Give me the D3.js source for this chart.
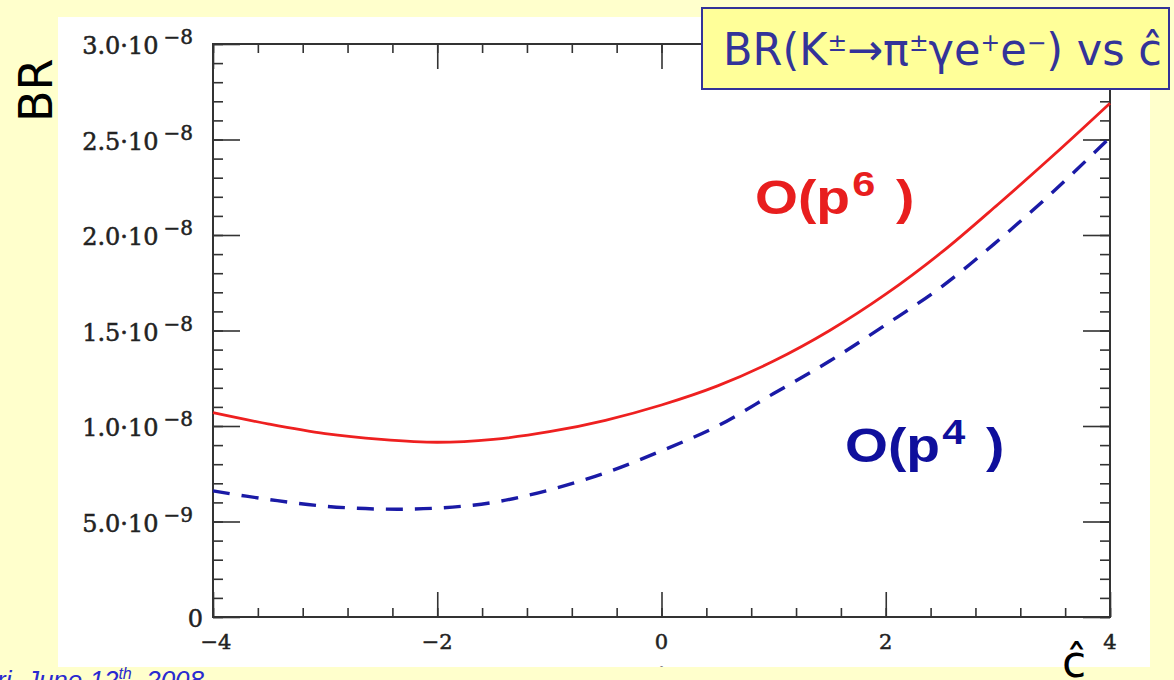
<!DOCTYPE html>
<html>
<head>
<meta charset="utf-8">
<script src="https://cdn.jsdelivr.net/npm/d3@7"></script>
<style>
  body { margin: 0; background: #ffffcc; }
  svg { display: block; }
</style>
</head>
<body>
<svg id="chart"></svg>
<script>
// values, BR as function of c-hat
var cHat = [-4, -3.5, -3, -2.5, -2, -1.5, -1, -0.5, 0, 0.5, 1, 1.5, 2, 2.5, 3, 3.5, 4];
var brP6 = [1.07e-8, 1.01e-8, 0.96e-8, 0.93e-8, 0.915e-8, 0.93e-8, 0.97e-8, 1.03e-8, 1.11e-8,
            1.21e-8, 1.34e-8, 1.50e-8, 1.69e-8, 1.91e-8, 2.16e-8, 2.42e-8, 2.69e-8];
var brP4 = [0.66e-8, 0.615e-8, 0.58e-8, 0.565e-8, 0.57e-8, 0.60e-8, 0.665e-8, 0.755e-8, 0.87e-8,
            1.00e-8, 1.17e-8, 1.34e-8, 1.53e-8, 1.73e-8, 1.97e-8, 2.23e-8, 2.51e-8];

var yTicks = [0, 5e-9, 1e-8, 1.5e-8, 2e-8, 2.5e-8, 3e-8];
var yTickText = ["0", "5.0·10", "1.0·10", "1.5·10", "2.0·10", "2.5·10", "3.0·10"];
var yTickExp = ["", "−9", "−8", "−8", "−8", "−8", "−8"];
var xTicks = [-4, -2, 0, 2, 4];
var xTickText = ["−4", "−2", "0", "2", "4"];

var width = 1174,
    height = 680,
    panel = {x: 58, y: 17, w: 1092, h: 650},
    plot = {left: 213, right: 1110, top: 44, bottom: 617},
    majorLen = 27,
    minorLen = 9;

var svg = d3.select("#chart")
    .attr("width", width)
    .attr("height", height);

svg.append("rect")
    .attr("width", width)
    .attr("height", height)
    .attr("fill", "#ffffcc");

svg.append("clipPath")
    .attr("id", "panelclip")
    .append("rect")
    .attr("x", panel.x).attr("y", panel.y)
    .attr("width", panel.w).attr("height", panel.h);

svg.append("rect")
    .attr("x", panel.x).attr("y", panel.y)
    .attr("width", panel.w).attr("height", panel.h)
    .attr("fill", "#ffffff");

var xScale = d3.scaleLinear().domain([-4, 4]).range([plot.left, plot.right]),
    yScale = d3.scaleLinear().domain([0, 3e-8]).range([plot.bottom, plot.top]);

var xMinor = d3.range(-4, 4.001, 0.4),
    yMinor = d3.range(0, 3.0001e-8, 1e-9);

var axes = svg.append("g").attr("class", "axes");

function tickAxis(axisFn, scale, values, size, transform) {
    var g = axes.append("g")
        .attr("transform", transform)
        .call(axisFn(scale).tickValues(values).tickSize(size).tickSizeOuter(0).tickFormat(""));
    g.select(".domain").remove();
    g.selectAll("line").attr("stroke", "#333").attr("stroke-width", 1.6);
    return g;
}

// ticks point inward on all four sides
tickAxis(d3.axisBottom, xScale, xMinor, -minorLen, "translate(0," + plot.bottom + ")");
tickAxis(d3.axisBottom, xScale, xTicks, -majorLen + 2, "translate(0," + plot.bottom + ")");
tickAxis(d3.axisTop, xScale, xMinor, -minorLen, "translate(0," + plot.top + ")");
tickAxis(d3.axisTop, xScale, xTicks, -majorLen + 2, "translate(0," + plot.top + ")");
tickAxis(d3.axisLeft, yScale, yMinor, -minorLen - 1, "translate(" + plot.left + ",0)");
tickAxis(d3.axisLeft, yScale, yTicks, -majorLen, "translate(" + plot.left + ",0)");
tickAxis(d3.axisRight, yScale, yMinor, -minorLen - 1, "translate(" + plot.right + ",0)");
tickAxis(d3.axisRight, yScale, yTicks, -majorLen, "translate(" + plot.right + ",0)");

axes.append("rect")
    .attr("x", plot.left).attr("y", plot.top)
    .attr("width", plot.right - plot.left)
    .attr("height", plot.bottom - plot.top)
    .attr("fill", "none")
    .attr("stroke", "#333")
    .attr("stroke-width", 2);

// y tick labels with exponent
var yLab = svg.append("g")
    .attr("font-family", "'DejaVu Serif', serif")
    .attr("fill", "#222")
    .attr("stroke", "#222")
    .attr("stroke-width", 0.5)
    .selectAll("text")
    .data(yTicks)
    .enter()
    .append("text")
    .attr("x", function(d, i) { return i === 0 ? 203 : 193; })
    .attr("y", function(d) { return yScale(d) + 10; })
    .attr("text-anchor", "end")
    .attr("font-size", 24);

yLab.append("tspan").text(function(d, i) { return yTickText[i]; });
yLab.append("tspan")
    .attr("dy", -10)
    .attr("dx", 5)
    .attr("font-size", 20)
    .text(function(d, i) { return yTickExp[i]; });

svg.append("g")
    .attr("font-family", "'DejaVu Serif', serif")
    .attr("fill", "#222")
    .attr("stroke", "#222")
    .attr("stroke-width", 0.5)
    .selectAll("text")
    .data(xTicks)
    .enter()
    .append("text")
    .attr("x", function(d, i) { return xScale(d) + (i === 0 ? 3 : 0); })
    .attr("y", plot.bottom + 32)
    .attr("text-anchor", "middle")
    .attr("font-size", 21)
    .text(function(d, i) { return xTickText[i]; });

// curves
var line = d3.line()
    .x(function(d, i) { return xScale(cHat[i]); })
    .y(function(d) { return yScale(d); })
    .curve(d3.curveCatmullRom);

svg.append("path")
    .datum(brP4)
    .attr("d", line)
    .attr("fill", "none")
    .attr("stroke", "#1a1aa6")
    .attr("stroke-width", 3.4)
    .attr("stroke-dasharray", "17,12");

svg.append("path")
    .datum(brP6)
    .attr("d", line)
    .attr("fill", "none")
    .attr("stroke", "#ee2020")
    .attr("stroke-width", 2.8);

// series labels
function orderLabel(x, y, power, color) {
    var t = svg.append("g")
        .attr("transform", "translate(" + x + "," + y + ") scale(1.15,1)")
        .append("text")
        .attr("font-family", "'Liberation Sans', Arial, sans-serif")
        .attr("font-weight", "bold")
        .attr("font-size", 48)
        .attr("fill", color);
    t.append("tspan").text("O(p");
    t.append("tspan").attr("dy", -18).attr("dx", 2).attr("font-size", 36).text(power);
    t.append("tspan").attr("dy", 18).attr("dx", 18).text(")");
}
orderLabel(755, 214, "6", "#e81e1e");
orderLabel(845, 462, "4", "#0f0f9c");

// axis names
svg.append("text")
    .attr("transform", "translate(52,122) rotate(-90)")
    .attr("font-family", "'DejaVu Sans', sans-serif")
    .attr("font-size", 46)
    .attr("fill", "#000")
    .text("BR");

svg.append("text")
    .attr("x", 1074)
    .attr("y", 677)
    .attr("text-anchor", "middle")
    .attr("font-family", "'DejaVu Sans', sans-serif")
    .attr("font-size", 44)
    .attr("fill", "#000")
    .text("ĉ");

// cut-off original axis name at the bottom of the panel
svg.append("text")
    .attr("clip-path", "url(#panelclip)")
    .attr("x", 661)
    .attr("y", 688)
    .attr("text-anchor", "middle")
    .attr("font-family", "'DejaVu Serif', serif")
    .attr("font-size", 26)
    .attr("fill", "#222")
    .text("ĉ");

// title box
svg.append("rect")
    .attr("x", 702).attr("y", 8)
    .attr("width", 467).attr("height", 81)
    .attr("fill", "#ffff99")
    .attr("stroke", "#333399")
    .attr("stroke-width", 2);

var title = svg.append("text")
    .attr("x", 0)
    .attr("y", 0)
    .attr("font-family", "'DejaVu Sans', sans-serif")
    .attr("font-size", 44)
    .attr("fill", "#333399");
title.append("tspan").text("BR(K");
title.append("tspan").attr("font-size", 24).attr("dy", -14).text("±");
title.append("tspan").attr("dy", 14).text("→π");
title.append("tspan").attr("font-size", 24).attr("dy", -14).text("±");
title.append("tspan").attr("dy", 14).text("γe");
title.append("tspan").attr("font-size", 24).attr("dy", -14).text("+");
title.append("tspan").attr("dy", 14).text("e");
title.append("tspan").attr("font-size", 24).attr("dy", -14).text("−");
title.append("tspan").attr("dy", 14).text(") vs ĉ");

var tw = title.node().getComputedTextLength();
title.attr("transform", "translate(723,65) scale(" + (439 / tw) + ",1)");

// footer fragment
svg.append("text")
    .attr("x", -3)
    .attr("y", 689)
    .attr("font-family", "'Liberation Sans', Arial, sans-serif")
    .attr("font-style", "italic")
    .attr("font-size", 26)
    .attr("fill", "#2a2ad0")
    .html("ri, June 12<tspan font-size='16' dy='-10'>th</tspan><tspan dy='10'>, 2008</tspan>");
</script>
</body>
</html>
